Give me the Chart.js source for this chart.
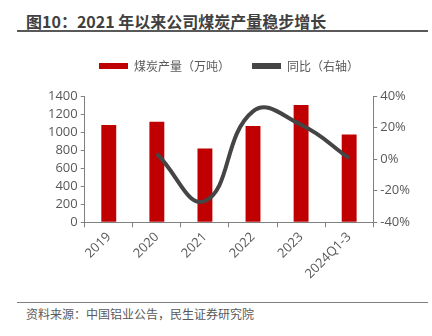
<!DOCTYPE html>
<html>
<head>
<meta charset="utf-8">
<script src="https://cdn.jsdelivr.net/npm/chart.js@4.4.0/dist/chart.umd.min.js"></script>
<style>
  body { margin: 0; background: #fff; width: 432px; height: 336px; overflow: hidden; position: relative; font-family: "Noto Sans CJK SC", sans-serif; }
  #title { position: absolute; left: 26px; top: 9px; font-size: 16px; font-weight: bold; color: #404040; white-space: nowrap; }
  #topline { position: absolute; left: 17px; top: 30px; width: 411px; height: 2px; background: #595959; }
  #bottomline { position: absolute; left: 17px; top: 302px; width: 411px; height: 1px; background: #7f7f7f; }
  #source { position: absolute; left: 26px; top: 305px; font-size: 12px; color: #595959; white-space: nowrap; }
  #wrap { position: absolute; left: 0; top: 32px; width: 432px; height: 268px; }
</style>
</head>
<body>
<div id="title">图10：2021 年以来公司煤炭产量稳步增长</div>
<div id="topline"></div>
<div id="wrap"><canvas id="coal-chart"></canvas></div>
<div id="bottomline"></div>
<div id="source">资料来源：中国铝业公告，民生证券研究院</div>
<script>
const years = ['2019', '2020', '2021', '2022', '2023', '2024Q1-3'];
const output = [1078, 1115, 819, 1067, 1300, 974];
const yoy = [null, 3.4, -26.5, 30.3, 21.8, 0.6];
const leftTicks = [0, 1400, 200];
const rightTicks = [-40, 40, 20];

const tickFont = { family: '"Open Sans", "Noto Sans CJK SC"', size: 13 };
const axisGrey = '#808080';

// extra room under the legend
const legendGap = {
  id: 'legendGap',
  beforeInit(chart) {
    const fit = chart.legend.fit;
    chart.legend.fit = function() {
      fit.bind(chart.legend)();
      this.height += 14;
    };
  }
};

const data = {
  labels: years,
  datasets: [
    {
      type: 'bar',
      label: '煤炭产量（万吨）',
      data: output,
      backgroundColor: '#c00000',
      yAxisID: 'y',
      barPercentage: 0.31,
      categoryPercentage: 1,
      order: 2
    },
    {
      type: 'line',
      label: '同比（右轴）',
      data: yoy,
      borderColor: '#454545',
      backgroundColor: '#454545',
      borderWidth: 4,
      pointRadius: 0,
      tension: 0.45,
      yAxisID: 'y1',
      order: 1
    }
  ]
};

const config = {
  type: 'bar',
  data: data,
  plugins: [legendGap],
  options: {
    responsive: true,
    maintainAspectRatio: false,
    animation: false,
    layout: { padding: { left: 45, right: 19, top: 6, bottom: 16 } },
    plugins: {
      tooltip: { enabled: false },
      legend: {
        position: 'top',
        labels: {
          boxWidth: 29,
          boxHeight: 6,
          padding: 22,
          color: '#595959',
          font: { family: '"Noto Sans CJK SC"', size: 12 },
          sort: (a, b) => a.datasetIndex - b.datasetIndex,
          generateLabels: function(chart) {
            let items = Chart.defaults.plugins.legend.labels.generateLabels(chart);
            items.forEach(it => { it.lineWidth = 0; });
            return items;
          }
        }
      }
    },
    scales: {
      x: {
        grid: { display: true, drawOnChartArea: false, offset: true, tickLength: 5, color: axisGrey },
        border: { color: axisGrey },
        ticks: { color: '#595959', font: tickFont, maxRotation: 45, minRotation: 45, padding: 2, autoSkip: false }
      },
      y: {
        position: 'left',
        min: leftTicks[0],
        max: leftTicks[1],
        ticks: { stepSize: leftTicks[2], color: '#595959', font: tickFont, padding: 3, autoSkip: false, callback: v => String(v) },
        grid: { drawOnChartArea: false, tickLength: 4, color: axisGrey },
        border: { color: axisGrey }
      },
      y1: {
        position: 'right',
        min: rightTicks[0],
        max: rightTicks[1],
        ticks: { stepSize: rightTicks[2], color: '#595959', font: tickFont, padding: 3, autoSkip: false, callback: v => v + '%' },
        grid: { drawOnChartArea: false, tickLength: 4, color: axisGrey },
        border: { color: axisGrey }
      }
    }
  }
};

const coalChart = new Chart(document.getElementById('coal-chart'), config);
</script>
</body>
</html>
